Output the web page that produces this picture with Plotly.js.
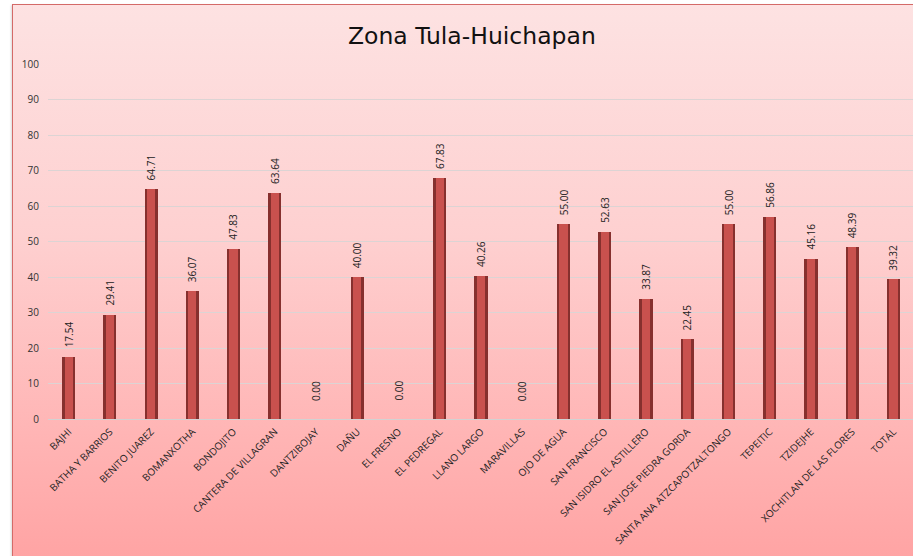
<!DOCTYPE html>
<html>
<head>
<meta charset="utf-8">
<script src="https://cdn.plot.ly/plotly-3.0.1.min.js"></script>
<style>
html,body{margin:0;padding:0;background:#ffffff;}
#wrap{position:relative;width:913px;height:556px;overflow:hidden;background:#ffffff;}
#frame{position:absolute;left:12px;top:4px;width:920px;height:580px;border:1px solid #d46a68;
 background:linear-gradient(to bottom,#fde2e2 0%,#fed0d0 40%,#ffb4b4 75%,#ffa0a0 100%);
 box-shadow:-1px 1px 2px rgba(0,0,0,0.15);}
#chart{position:absolute;left:0;top:0;width:918px;height:556px;}
</style>
</head>
<body>
<div id="wrap">
<div id="frame"></div>
<div id="chart"></div>
</div>
<script>
const categories = ["BAJHI","BATHA Y BARRIOS","BENITO JUAREZ","BOMANXOTHA","BONDOJITO","CANTERA DE VILLAGRAN","DANTZIBOJAY","DAÑU","EL FRESNO","EL PEDREGAL","LLANO LARGO","MARAVILLAS","OJO DE AGUA","SAN FRANCISCO","SAN ISIDRO EL ASTILLERO","SAN JOSE PIEDRA GORDA","SANTA ANA ATZCAPOTZALTONGO","TEPEITIC","TZIDEJHE","XOCHITLAN DE LAS FLORES","TOTAL"];
const values = [17.54,29.41,64.71,36.07,47.83,63.64,0.00,40.00,0.00,67.83,40.26,0.00,55.00,52.63,33.87,22.45,55.00,56.86,45.16,48.39,39.32];
const yTicks = [0,10,20,30,40,50,60,70,80,90,100];
const chartTitle = "Zona Tula-Huichapan";

const fontFam = "Open Sans, Lato, sans-serif";

const base = {
  type:"bar", x:categories, y:values, width:0.32,
  marker:{color:"#86302e", line:{width:0}},
  hoverinfo:"x+y", showlegend:false
};
const highlight = {
  type:"bar", x:categories, y:values, width:0.2,
  marker:{color:"#c9514e", line:{width:0}},
  hoverinfo:"skip", showlegend:false
};

const annotations = categories.map((c,i)=>({
  x:c, y:values[i], xref:"x", yref:"y",
  text:values[i].toFixed(2), showarrow:false, textangle:-90,
  xanchor:"center", yanchor:"bottom", yshift: values[i] === 0 ? 16 : 7,
  font:{family:fontFam, size:10, color:"#222222"}
}));

const layout = {
  width:918, height:556,
  margin:{l:48, r:4, t:64, b:137},
  paper_bgcolor:"rgba(0,0,0,0)", plot_bgcolor:"rgba(0,0,0,0)",
  barmode:"overlay",
  title:{text:chartTitle, x:0.514, xanchor:"center", y:0.935, yanchor:"middle",
         font:{family:"DejaVu Sans, Verdana, sans-serif", size:23.5, color:"#111111"}},
  xaxis:{type:"category", tickangle:-45, tickfont:{family:fontFam, size:10, color:"#222222"}, showgrid:false,
         showline:false, ticks:"", range:[-0.5,20.5], automargin:false, ticklabelstandoff:4},
  yaxis:{range:[0,100], tickvals:yTicks, tickfont:{family:fontFam, size:10, color:"#333333"},
         showgrid:true, gridcolor:"#dcd4d4", gridwidth:1, zeroline:true, zerolinecolor:"#d2d2d2",
         zerolinewidth:1, ticks:"", ticklen:0, showline:false, automargin:false, ticklabelstandoff:8},
  annotations:annotations,
  bargap:0
};

Plotly.newPlot("chart",[base,highlight],layout,{displayModeBar:false,staticPlot:true});
</script>
</body>
</html>
